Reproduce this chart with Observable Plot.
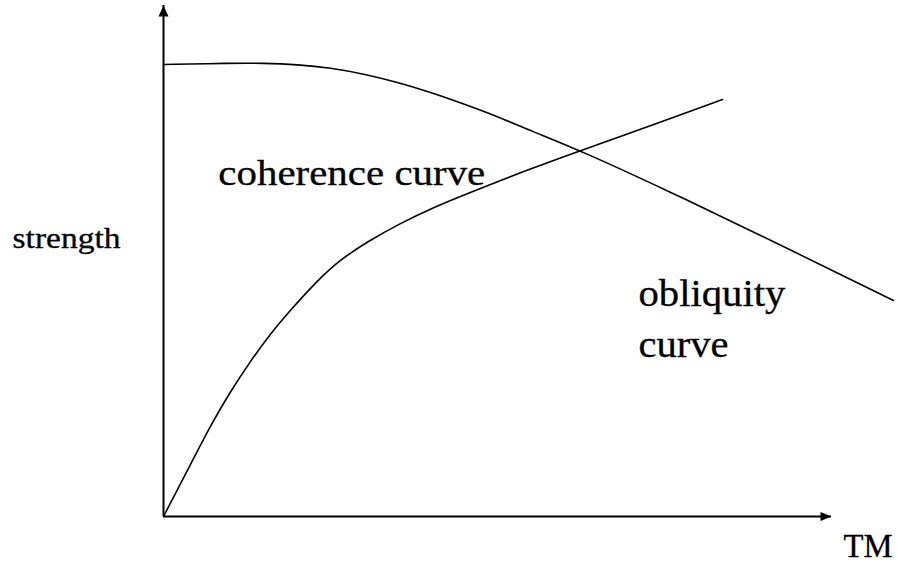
<!DOCTYPE html>
<html>
<head>
<meta charset="utf-8">
<script src="https://cdn.jsdelivr.net/npm/d3@7"></script>
<script src="https://cdn.jsdelivr.net/npm/@observablehq/plot@0.6"></script>
<style>
  html, body { margin: 0; padding: 0; background: #fff; }
  #chart svg { display: block; }
</style>
</head>
<body>
<div id="chart"></div>
<script>
// Rising curve (strength vs TM)
const risingTM       = [0, 4.49, 7.04, 10.03, 13.02, 16.02, 19.01, 23.05, 26.5, 30.54, 35.48, 40.42, 45.51, 55.39, 62.43, 76.35, 83.68];
const risingStrength = [0, 11.3, 17.8, 24.5, 30.4, 35.8, 40.4, 46.2, 50.3, 53.8, 57.4, 60.5, 63.2, 68.3, 71.6, 78.1, 81.6];

// Falling curve
const fallingTM       = [0, 10.03, 14.97, 20.06, 25.0, 29.94, 35.03, 39.97, 44.91, 50.0, 54.94, 62.43, 76.35, 86.38, 109.28];
const fallingStrength = [88.45, 88.71, 88.71, 88.45, 87.81, 86.63, 84.99, 83.03, 80.76, 78.3, 75.5, 71.62, 63.21, 56.95, 42.27];

// Labels
const labelText  = ["strength", "coherence curve", "obliquity", "curve", "TM"];
const labelTM    = [-22.6, 8.2, 71.1, 71.1, 101.8];
const labelStr   = [52.6, 64.8, 41.1, 31.3, -8.0];
const labelSize  = [30, 36, 37, 37, 33];
const labelWidth = [108, 267, 147, 90, 49];

const rising  = risingTM.map((x, i) => ({x, y: risingStrength[i]}));
const falling = fallingTM.map((x, i) => ({x, y: fallingStrength[i]}));
const labels  = labelText.map((t, i) => ({t, x: labelTM[i], y: labelStr[i], s: labelSize[i], w: labelWidth[i]}));

const upArrow = {draw(ctx) { ctx.moveTo(0, 0); ctx.lineTo(5, 11); ctx.lineTo(-5, 11); ctx.closePath(); }};
const rightArrow = {draw(ctx) { ctx.moveTo(0, 0); ctx.lineTo(-11, 4.5); ctx.lineTo(-11, -4.5); ctx.closePath(); }};

const fontFamily = "Liberation Serif, Times New Roman, Times, serif";

const chart = Plot.plot({
  width: 898,
  height: 566,
  marginLeft: 163,
  marginRight: 67,
  marginTop: 5,
  marginBottom: 50,
  x: {domain: [0, 100], axis: null},
  y: {domain: [0, 100], axis: null},
  style: {background: "#fff", fontFamily, overflow: "visible"},
  marks: [
    Plot.ruleX([0], {stroke: "black", strokeWidth: 2}),
    Plot.ruleY([0], {stroke: "black", strokeWidth: 2}),
    Plot.dot([{x: 0, y: 100}], {x: "x", y: "y", symbol: upArrow, fill: "black", stroke: "none"}),
    Plot.dot([{x: 100, y: 0}], {x: "x", y: "y", symbol: rightArrow, fill: "black", stroke: "none"}),
    Plot.line(rising, {x: "x", y: "y", curve: "basis", stroke: "black", strokeWidth: 1.6}),
    Plot.line(falling, {x: "x", y: "y", curve: "basis", stroke: "black", strokeWidth: 1.6}),
    ...labels.map(d => Plot.text([d], {x: "x", y: "y", text: "t", textAnchor: "start", lineAnchor: "bottom", fontSize: d.s, fill: "black", stroke: "black", strokeWidth: 0.3, fontFamily}))
  ]
});

d3.select(chart).selectAll("text").each(function() {
  const l = labels.find(d => d.t === this.textContent);
  if (l) {
    this.setAttribute("textLength", l.w);
    this.setAttribute("lengthAdjust", "spacingAndGlyphs");
  }
});

document.getElementById("chart").appendChild(chart);
</script>
</body>
</html>
